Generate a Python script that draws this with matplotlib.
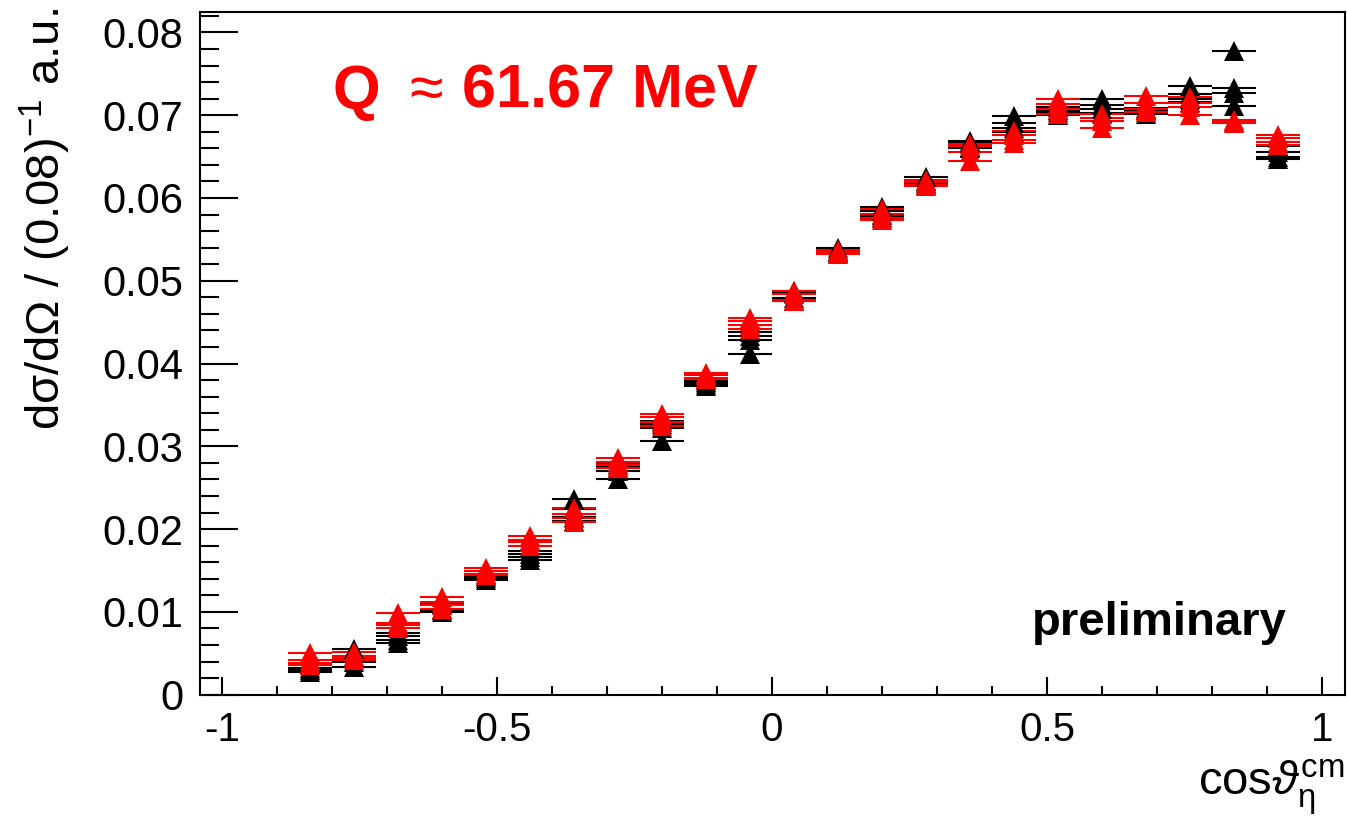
import numpy as np
import matplotlib
matplotlib.use("Agg")
from matplotlib import pyplot as plt
from matplotlib.ticker import MultipleLocator, FixedLocator

plt.rcParams['font.family'] = ['Liberation Sans', 'DejaVu Sans']
plt.rcParams['mathtext.fontset'] = 'custom'
plt.rcParams['mathtext.rm'] = 'Liberation Sans'
plt.rcParams['mathtext.it'] = 'Liberation Sans:italic'
plt.rcParams['mathtext.bf'] = 'Liberation Sans:bold'

# bin centres in cos(theta_eta^cm)
cos_bins = [-0.84, -0.76, -0.68, -0.60, -0.52, -0.44, -0.36, -0.28, -0.20, -0.12, -0.04,
            0.04, 0.12, 0.20, 0.28, 0.36, 0.44, 0.52, 0.60, 0.68, 0.76, 0.84, 0.92]
half_width = 0.04

# black series
black_1 = [0.0037, 0.0055, 0.0074, 0.0110, 0.0146, 0.0174, 0.0237, 0.0279, 0.0331, 0.0380, 0.0438,
           0.0488, 0.0539, 0.0589, 0.0625, 0.0669, 0.0699, 0.0710, 0.0719, 0.0709, 0.0735, 0.0777, 0.0663]
black_2 = [0.0032, 0.0045, 0.0071, 0.0104, 0.0144, 0.0170, 0.0224, 0.0275, 0.0327, 0.0378, 0.0433,
           0.0485, 0.0536, 0.0584, 0.0620, 0.0666, 0.0690, 0.0706, 0.0712, 0.0706, 0.0726, 0.0733, 0.0655]
black_3 = [0.0030, 0.0040, 0.0066, 0.0102, 0.0141, 0.0166, 0.0215, 0.0270, 0.0322, 0.0375, 0.0428,
           0.0479, 0.0535, 0.0580, 0.0618, 0.0662, 0.0685, 0.0704, 0.0708, 0.0704, 0.0720, 0.0727, 0.0650]
black_4 = [0.0027, 0.0034, 0.0062, 0.0100, 0.0139, 0.0163, 0.0210, 0.0260, 0.0307, 0.0373, 0.0411,
           0.0476, 0.0533, 0.0577, 0.0616, 0.0660, 0.0680, 0.0700, 0.0703, 0.0702, 0.0716, 0.0711, 0.0647]

# red series
red_1 = [0.0050, 0.0052, 0.0099, 0.0118, 0.0153, 0.0192, 0.0226, 0.0286, 0.0339, 0.0389, 0.0455,
         0.0488, 0.0537, 0.0587, 0.0622, 0.0665, 0.0681, 0.0719, 0.0702, 0.0723, 0.0722, 0.0694, 0.0676]
red_2 = [0.0042, 0.0047, 0.0087, 0.0112, 0.0150, 0.0187, 0.0218, 0.0281, 0.0336, 0.0386, 0.0451,
         0.0484, 0.0535, 0.0581, 0.0619, 0.0663, 0.0676, 0.0713, 0.0697, 0.0715, 0.0715, 0.0693, 0.0673]
red_3 = [0.0038, 0.0044, 0.0084, 0.0108, 0.0146, 0.0184, 0.0213, 0.0277, 0.0330, 0.0383, 0.0446,
         0.0477, 0.0533, 0.0576, 0.0616, 0.0655, 0.0670, 0.0708, 0.0693, 0.0708, 0.0710, 0.0692, 0.0668]
red_4 = [0.0036, 0.0042, 0.0081, 0.0103, 0.0145, 0.0180, 0.0209, 0.0274, 0.0325, 0.0381, 0.0442,
         0.0475, 0.0532, 0.0573, 0.0614, 0.0645, 0.0666, 0.0702, 0.0684, 0.0704, 0.0700, 0.0691, 0.0664]

x_ticks = [-1, -0.5, 0, 0.5, 1]
x_ticklabels = ['-1', '-0.5', '0', '0.5', '1']
y_ticks = [0, 0.01, 0.02, 0.03, 0.04, 0.05, 0.06, 0.07, 0.08]
y_ticklabels = ['0', '0.01', '0.02', '0.03', '0.04', '0.05', '0.06', '0.07', '0.08']

fig = plt.figure(figsize=(13.47, 8.18), dpi=100)
ax = fig.add_axes([0.1485, 0.1507, 0.85, 0.835])

for ser in [black_1, black_2, black_3, black_4]:
    ax.errorbar(cos_bins, ser, xerr=half_width, fmt='^', color='black', ms=15,
                mew=0, elinewidth=1.5, capsize=0)
for ser in [red_1, red_2, red_3, red_4]:
    ax.errorbar(cos_bins, ser, xerr=half_width, fmt='^', color='red', ms=15,
                mew=0, elinewidth=1.5, capsize=0)

ax.set_xlim(-1.04, 1.042)
ax.set_ylim(0, 0.0825)

ax.xaxis.set_major_locator(FixedLocator(x_ticks))
ax.xaxis.set_minor_locator(MultipleLocator(0.1))
ax.yaxis.set_major_locator(FixedLocator(y_ticks))
ax.yaxis.set_minor_locator(MultipleLocator(0.002))
ax.set_xticklabels(x_ticklabels)
ax.set_yticklabels(y_ticklabels)

ax.tick_params(axis='both', which='both', direction='in', width=1.5, labelsize=29,
               top=False, right=False)
ax.tick_params(axis='y', which='major', length=27, pad=12, labelsize=30)
ax.tick_params(axis='y', which='minor', length=13.5)
ax.tick_params(axis='x', which='major', length=13, pad=12)
ax.tick_params(axis='x', which='minor', length=6.7)
for s in ax.spines.values():
    s.set_linewidth(1.5)

ax.text(-0.80, 0.0709, 'Q', color='red', fontsize=44, fontweight='bold', va='baseline')
ax.text(-0.66, 0.0709, '\u2248', color='red', fontsize=44, va='baseline')
ax.text(-0.564, 0.0709, '61.67 MeV', color='red', fontsize=44,
        fontweight='bold', va='baseline')
ax.text(0.936, 0.0072, 'preliminary', color='black', fontsize=34,
        fontweight='bold', ha='right', va='baseline')

fig.text(0.9985, 0.028, r'cos$\vartheta_{\mathrm{\eta}}^{\mathrm{cm}}$', fontsize=34,
         ha='right', va='baseline')
fig.text(0.034, 0.99, 'd\u03c3/d\u03a9 / (0.08)$^{-1}$ a.u.', fontsize=34,
         rotation=90, ha='center', va='top')

fig.savefig('out.png', dpi=100)
